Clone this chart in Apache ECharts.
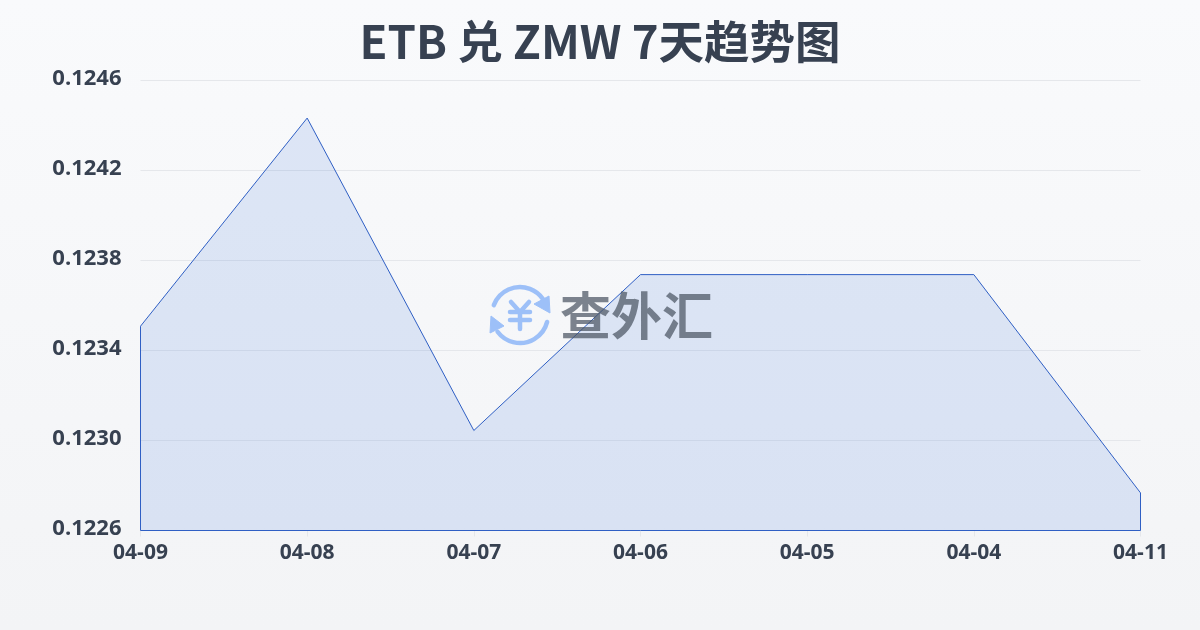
<!DOCTYPE html>
<html><head><meta charset="utf-8">
<style>html,body{margin:0;padding:0;background:#f5f7fa}#c{width:1200px;height:630px}</style>
<script src="https://cdn.jsdelivr.net/npm/echarts@6/dist/echarts.min.js"></script>
</head><body><div id="c"></div>
<script>
const titleText = 'ETB 兑 ZMW 7天趋势图';
const categories = ['04-09','04-08','04-07','04-06','04-05','04-04','04-11'];
const rates = [0.123507,0.124431,0.123044,0.123736,0.123736,0.123736,0.122767];
const axisMin = 0.1226, axisMax = 0.1246, axisStep = 0.0004;
const last = categories.length - 1;
const outline = [[0,axisMin]].concat(rates.map((v,i)=>[i,v]),[[last,axisMin],[0,axisMin]]);
const ink = '#374151';
const blue = '#9dc0f8';
const markGrey = 'rgba(75,85,99,0.72)';
const chart = echarts.init(document.getElementById('c'), null, {renderer:'canvas'});
chart.setOption({
  animation:false,
  backgroundColor:new echarts.graphic.LinearGradient(0,0,0,1,[{offset:0,color:'#f9fafc'},{offset:1,color:'#f3f4f6'}]),
  title:{text:titleText,left:'center',top:14,textStyle:{fontFamily:'"Noto Sans CJK SC","Noto Sans",sans-serif',fontWeight:'bold',fontSize:45.5,color:ink}},
  grid:{left:140.5,right:59.5,top:80,bottom:99.5},
  xAxis:{type:'category',boundaryGap:false,data:categories,
    axisLine:{show:false},axisTick:{show:true,length:6,lineStyle:{color:'#e5e7eb'}},
    axisLabel:{color:ink,fontWeight:'bold',fontSize:21,margin:12,fontFamily:'"Open Sans","Noto Sans",sans-serif',showMinLabel:true,showMaxLabel:true,interval:0},
    splitLine:{show:false}},
  yAxis:{type:'value',min:axisMin,max:axisMax,interval:axisStep,
    axisLine:{show:false},axisTick:{show:false},
    axisLabel:{color:ink,fontWeight:'bold',fontSize:22,margin:19,verticalAlign:'bottom',lineHeight:3,fontFamily:'"Open Sans","Noto Sans",sans-serif',formatter:v=>v.toFixed(4)},
    splitLine:{show:true,lineStyle:{color:'#e5e7eb',width:1}}},
  graphic:[
    {type:'arc',z:10,silent:true,shape:{cx:520,cy:315,r:28,startAngle:-2.78,endAngle:-0.6,clockwise:true},style:{stroke:blue,fill:null,lineWidth:4.5,lineCap:'round'}},
    {type:'arc',z:10,silent:true,shape:{cx:520,cy:315,r:28,startAngle:0.25,endAngle:2.5,clockwise:true},style:{stroke:blue,fill:null,lineWidth:4.5,lineCap:'round'}},
    {type:'polygon',z:10,silent:true,shape:{points:[[534,304],[549,296],[550,313]]},style:{fill:blue,stroke:blue,lineWidth:1,lineJoin:'round'}},
    {type:'polygon',z:10,silent:true,shape:{points:[[504,326],[491,316],[490,333]]},style:{fill:blue,stroke:blue,lineWidth:1,lineJoin:'round'}},
    {type:'polyline',z:10,silent:true,shape:{points:[[511,302],[520,312],[529,302]]},style:{stroke:blue,fill:null,lineWidth:4.5,lineCap:'round',lineJoin:'round'}},
    {type:'line',z:10,silent:true,shape:{x1:510,y1:312,x2:530,y2:312},style:{stroke:blue,lineWidth:4.5,lineCap:'round'}},
    {type:'line',z:10,silent:true,shape:{x1:510,y1:320,x2:530,y2:320},style:{stroke:blue,lineWidth:4.5,lineCap:'round'}},
    {type:'line',z:10,silent:true,shape:{x1:520,y1:312,x2:520,y2:329},style:{stroke:blue,lineWidth:4.5,lineCap:'round'}},
    {type:'text',z:10,silent:true,style:{x:560,y:316,text:'查外汇',align:'left',verticalAlign:'middle',fontSize:51,fontWeight:'bold',fontFamily:'"Noto Sans CJK SC",sans-serif',fill:markGrey}}
  ],
  series:[{type:'line',data:outline,z:3,symbol:'none',showSymbol:false,smooth:false,
    lineStyle:{color:'#2f5fc4',width:1},
    areaStyle:{color:'rgba(59,110,220,0.2)',origin:'start'}}]
});
</script></body></html>
